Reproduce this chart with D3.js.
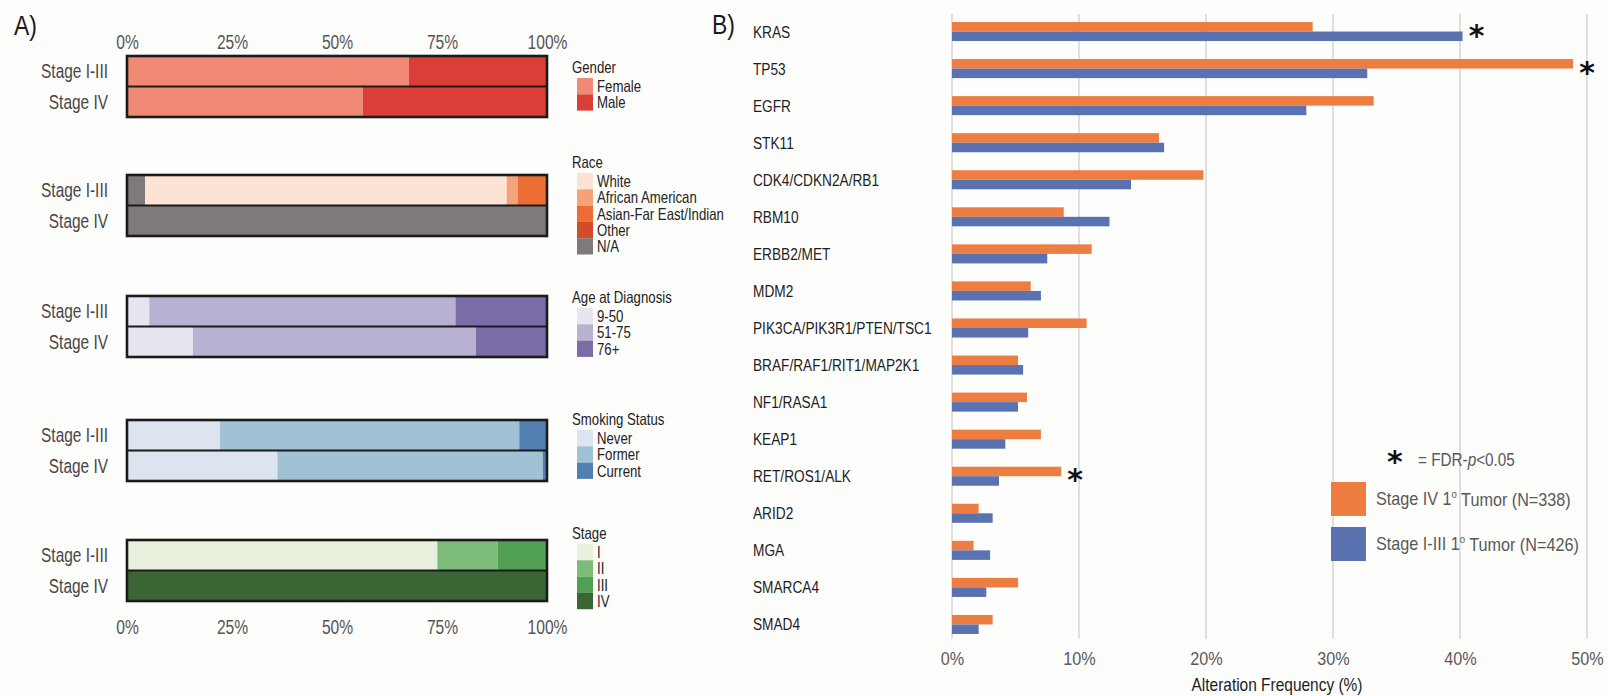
<!DOCTYPE html>
<html>
<head>
<meta charset="utf-8">
<script src="https://cdn.jsdelivr.net/npm/d3@7"></script>
<style>
  html, body { margin: 0; padding: 0; background: #fdfdfc; }
  svg { display: block; }
  text { font-family: 'Liberation Sans', Arial, sans-serif; }
</style>
</head>
<body>
<svg id="chart" width="1608" height="696"></svg>
<script>
// ---------- Panel A: cohort composition (percent of patients) ----------
const stageRows = ["Stage I-III", "Stage IV"];
const pctTicks = [0, 25, 50, 75, 100];

const genderKeys = ["Female", "Male"];
const genderColors = ["#f08a74", "#db3d37"];
const genderStageI_III = [67.1, 32.9];
const genderStageIV = [56.1, 43.9];

// race bars are stacked with N/A first; legend lists N/A last
const raceKeys = ["N/A", "White", "African American", "Asian-Far East/Indian", "Other"];
const raceColors = ["#7f7a7a", "#fde3d4", "#f4a27a", "#eb6d34", "#d44b2a"];
const raceLegendOrder = ["White", "African American", "Asian-Far East/Indian", "Other", "N/A"];
const raceStageI_III = [4.3, 86.1, 2.6, 6.6, 0.4];
const raceStageIV = [100, 0, 0, 0, 0];

const ageKeys = ["9-50", "51-75", "76+"];
const ageColors = ["#e8e4f0", "#b8b1d1", "#7b6ba6"];
const ageStageI_III = [5.3, 72.9, 21.8];
const ageStageIV = [15.7, 67.4, 16.9];

const smokingKeys = ["Never", "Former", "Current"];
const smokingColors = ["#dce4ef", "#a1c2d4", "#527fb0"];
const smokingStageI_III = [22.1, 71.3, 6.6];
const smokingStageIV = [35.8, 63.2, 1.0];

const stageKeys = ["I", "II", "III", "IV"];
const stageColors = ["#e7f1de", "#7dbb78", "#51a054", "#3a6534"];
const stageStageI_III = [73.9, 14.4, 11.7, 0];
const stageStageIV = [0, 0, 0, 100];

// ---------- Panel B: alteration frequency by gene (%) ----------
const genes = ["KRAS", "TP53", "EGFR", "STK11", "CDK4/CDKN2A/RB1", "RBM10", "ERBB2/MET", "MDM2",
  "PIK3CA/PIK3R1/PTEN/TSC1", "BRAF/RAF1/RIT1/MAP2K1", "NF1/RASA1", "KEAP1", "RET/ROS1/ALK",
  "ARID2", "MGA", "SMARCA4", "SMAD4"];
const stageIVFreq = [28.4, 48.9, 33.2, 16.3, 19.8, 8.8, 11.0, 6.2, 10.6, 5.2, 5.9, 7.0, 8.6, 2.1, 1.7, 5.2, 3.2];
const stageI_IIIFreq = [40.2, 32.7, 27.9, 16.7, 14.1, 12.4, 7.5, 7.0, 6.0, 5.6, 5.2, 4.2, 3.7, 3.2, 3.0, 2.7, 2.1];
const seriesNames = ["Stage IV 1\u00b0 Tumor (N=338)", "Stage I-III 1\u00b0 Tumor (N=426)"];
const seriesColors = ["#ee7d42", "#5b72b0"];
const significantGenes = ["KRAS", "TP53", "RET/ROS1/ALK"];
const freqTicks = [0, 10, 20, 30, 40, 50];

const svg = d3.select("#chart");

// narrow lettering: squeeze each label horizontally about its anchor point
function condense(sel, f) {
  sel.each(function () {
    const t = d3.select(this);
    const x = +t.attr("x") || 0, y = +t.attr("y") || 0;
    t.attr("x", 0).attr("y", 0).attr("transform", `translate(${x},${y}) scale(${f},1)`);
  });
}

// ================= Panel A =================
const gA = svg.append("g");
condense(gA.append("text").attr("x", 14).attr("y", 35).attr("font-size", 27).attr("fill", "#1a1a1a").text("A)"), 0.85);

const xA = d3.scaleLinear().domain([0, 100]).range([127, 547]);

const blocks = [
  { title: "Gender", keys: genderKeys, colors: genderColors, rows: [genderStageI_III, genderStageIV], legend: genderKeys, top: 56, legendY: 67 },
  { title: "Race", keys: raceKeys, colors: raceColors, rows: [raceStageI_III, raceStageIV], legend: raceLegendOrder, top: 175, legendY: 162 },
  { title: "Age at Diagnosis", keys: ageKeys, colors: ageColors, rows: [ageStageI_III, ageStageIV], legend: ageKeys, top: 296, legendY: 297 },
  { title: "Smoking Status", keys: smokingKeys, colors: smokingColors, rows: [smokingStageI_III, smokingStageIV], legend: smokingKeys, top: 420, legendY: 419 },
  { title: "Stage", keys: stageKeys, colors: stageColors, rows: [stageStageI_III, stageStageIV], legend: stageKeys, top: 540, legendY: 533 }
];

const boxH = 61;

blocks.forEach(b => {
  const g = gA.append("g");
  const yRow = d3.scaleBand().domain(stageRows).range([b.top, b.top + boxH]);
  const color = d3.scaleOrdinal().domain(b.keys).range(b.colors);

  const table = stageRows.map((r, i) => {
    const o = { row: r };
    b.keys.forEach((k, j) => { o[k] = b.rows[i][j]; });
    return o;
  });
  const stacked = d3.stack().keys(b.keys)(table);

  g.selectAll("g.layer").data(stacked).join("g")
    .attr("fill", d => color(d.key))
    .selectAll("rect").data(d => d).join("rect")
    .attr("x", d => xA(d[0]))
    .attr("width", d => Math.max(0, xA(d[1]) - xA(d[0])))
    .attr("y", d => yRow(d.data.row))
    .attr("height", yRow.bandwidth());

  // frame and row divider
  g.append("rect")
    .attr("x", xA(0)).attr("y", b.top)
    .attr("width", xA(100) - xA(0)).attr("height", boxH)
    .attr("fill", "none").attr("stroke", "#1b1b1b").attr("stroke-width", 2.6);
  g.append("line")
    .attr("x1", xA(0)).attr("x2", xA(100))
    .attr("y1", yRow(stageRows[1])).attr("y2", yRow(stageRows[1]))
    .attr("stroke", "#1b1b1b").attr("stroke-width", 2.2);

  // row labels
  condense(g.selectAll("text.row").data(stageRows).join("text")
    .attr("class", "row")
    .attr("x", 108)
    .attr("y", d => yRow(d) + yRow.bandwidth() / 2)
    .attr("dy", "0.35em")
    .attr("text-anchor", "end")
    .attr("font-size", 19.3)
    .attr("fill", "#4a4646")
    .text(d => d), 0.8);

  // legend
  const lg = g.append("g");
  condense(lg.append("text").attr("x", 572).attr("y", b.legendY).attr("dy", "0.35em")
    .attr("font-size", 16.5).attr("fill", "#222").text(b.title), 0.8);
  const itemH = 16.3;
  const items = lg.selectAll("g.item").data(b.legend).join("g").attr("class", "item")
    .attr("transform", (d, j) => `translate(577,${b.legendY + 11 + j * itemH})`);
  items.append("rect").attr("width", 16).attr("height", itemH).attr("fill", d => color(d));
  condense(items.append("text").attr("x", 20).attr("y", itemH / 2).attr("dy", "0.35em")
    .attr("font-size", 16.5).attr("fill", "#222").text(d => d), 0.8);
});

// percent axes above and below the stacked bars
const axTop = d3.axisTop(xA).tickValues(pctTicks).tickFormat(d => d + "%").tickSize(0).tickPadding(0);
const axBot = d3.axisBottom(xA).tickValues(pctTicks).tickFormat(d => d + "%").tickSize(0).tickPadding(0);
[[axTop, 49], [axBot, 620]].forEach(([ax, yy]) => {
  const a = gA.append("g").attr("transform", `translate(0,${yy})`).call(ax);
  a.select(".domain").remove();
  a.attr("font-family", null).attr("font-size", null);
  const t = a.selectAll("text").attr("font-size", 19.5).attr("fill", "#555");
  condense(t, 0.8);
});

// ================= Panel B =================
const gB = svg.append("g");
condense(gB.append("text").attr("x", 712).attr("y", 34).attr("font-size", 27).attr("fill", "#1a1a1a").text("B)"), 0.85);

const xB = d3.scaleLinear().domain([0, 50]).range([952, 1587]);
const yB = d3.scaleBand().domain(genes).range([13, 643]).paddingInner(0.486).paddingOuter(0.243);
const ySub = d3.scaleBand().domain(seriesNames).range([0, yB.bandwidth()]);

// vertical gridlines
gB.selectAll("line.grid").data(freqTicks).join("line")
  .attr("class", "grid")
  .attr("x1", d => xB(d)).attr("x2", d => xB(d))
  .attr("y1", 14).attr("y2", 639)
  .attr("stroke", "#d9d6d6").attr("stroke-width", 1.6);

const axB = d3.axisBottom(xB).tickValues(freqTicks).tickFormat(d => d + "%").tickSize(0).tickPadding(0);
const axBg = gB.append("g").attr("transform", "translate(0,652)").call(axB);
axBg.select(".domain").remove();
axBg.attr("font-family", null).attr("font-size", null);
condense(axBg.selectAll("text").attr("font-size", 18).attr("fill", "#595959"), 0.9);

condense(gB.append("text").attr("x", 1277).attr("y", 685).attr("dy", "0.35em")
  .attr("text-anchor", "middle").attr("font-size", 18).attr("fill", "#222")
  .text("Alteration Frequency (%)"), 0.86);

const rows = genes.map((g, i) => ({ gene: g, vals: [stageIVFreq[i], stageI_IIIFreq[i]] }));

const grp = gB.selectAll("g.gene").data(rows).join("g").attr("class", "gene")
  .attr("transform", d => `translate(0,${yB(d.gene)})`);

grp.selectAll("rect").data(d => d.vals.map((v, j) => ({ v, s: seriesNames[j], c: seriesColors[j] })))
  .join("rect")
  .attr("x", xB(0))
  .attr("y", d => ySub(d.s))
  .attr("width", d => xB(d.v) - xB(0))
  .attr("height", ySub.bandwidth())
  .attr("fill", d => d.c);

condense(gB.selectAll("text.gene").data(genes).join("text")
  .attr("class", "gene")
  .attr("x", 753)
  .attr("y", d => yB(d) + yB.bandwidth() / 2)
  .attr("dy", "0.35em")
  .attr("font-size", 17.1)
  .attr("fill", "#1e1e1e")
  .text(d => d), 0.8);

// significance markers just past the longer bar of each flagged gene
rows.filter(r => significantGenes.includes(r.gene)).forEach(r => {
  const yC = yB(r.gene) + yB.bandwidth() / 2;
  gB.append("text")
    .attr("x", xB(d3.max(r.vals)) + 14)
    .attr("y", yC + 14)
    .attr("text-anchor", "middle")
    .attr("font-size", 30).attr("font-weight", "bold").attr("fill", "#111")
    .style("font-family", "'DejaVu Sans', sans-serif")
    .text("*");
});

// legend
const lgB = gB.append("g");
lgB.append("text").attr("x", 1387).attr("y", 472).attr("font-size", 30).attr("font-weight", "bold")
  .attr("fill", "#111").style("font-family", "'DejaVu Sans', sans-serif").text("*");
const fdr = lgB.append("text").attr("x", 1418).attr("y", 460).attr("dy", "0.35em")
  .attr("font-size", 18).attr("fill", "#595959");
fdr.append("tspan").text("=  FDR-");
fdr.append("tspan").attr("font-style", "italic").text("p");
fdr.append("tspan").text("<0.05");
condense(fdr, 0.85);

const legItems = lgB.selectAll("g.li").data(seriesNames).join("g").attr("class", "li")
  .attr("transform", (d, i) => `translate(1331,${482 + i * 45})`);
legItems.append("rect").attr("width", 35).attr("height", 34).attr("fill", (d, i) => seriesColors[i]);
legItems.each(function (d) {
  const t = d3.select(this).append("text").attr("x", 45).attr("y", 17).attr("dy", "0.35em")
    .attr("font-size", 18.5).attr("fill", "#595959");
  const parts = d.split("\u00b0");
  t.append("tspan").text(parts[0]);
  t.append("tspan").attr("font-size", 11).attr("dy", "-0.7em").text("o");
  t.append("tspan").attr("dy", "0.42em").text(parts[1]);
  condense(t, 0.875);
});
</script>
</body>
</html>
